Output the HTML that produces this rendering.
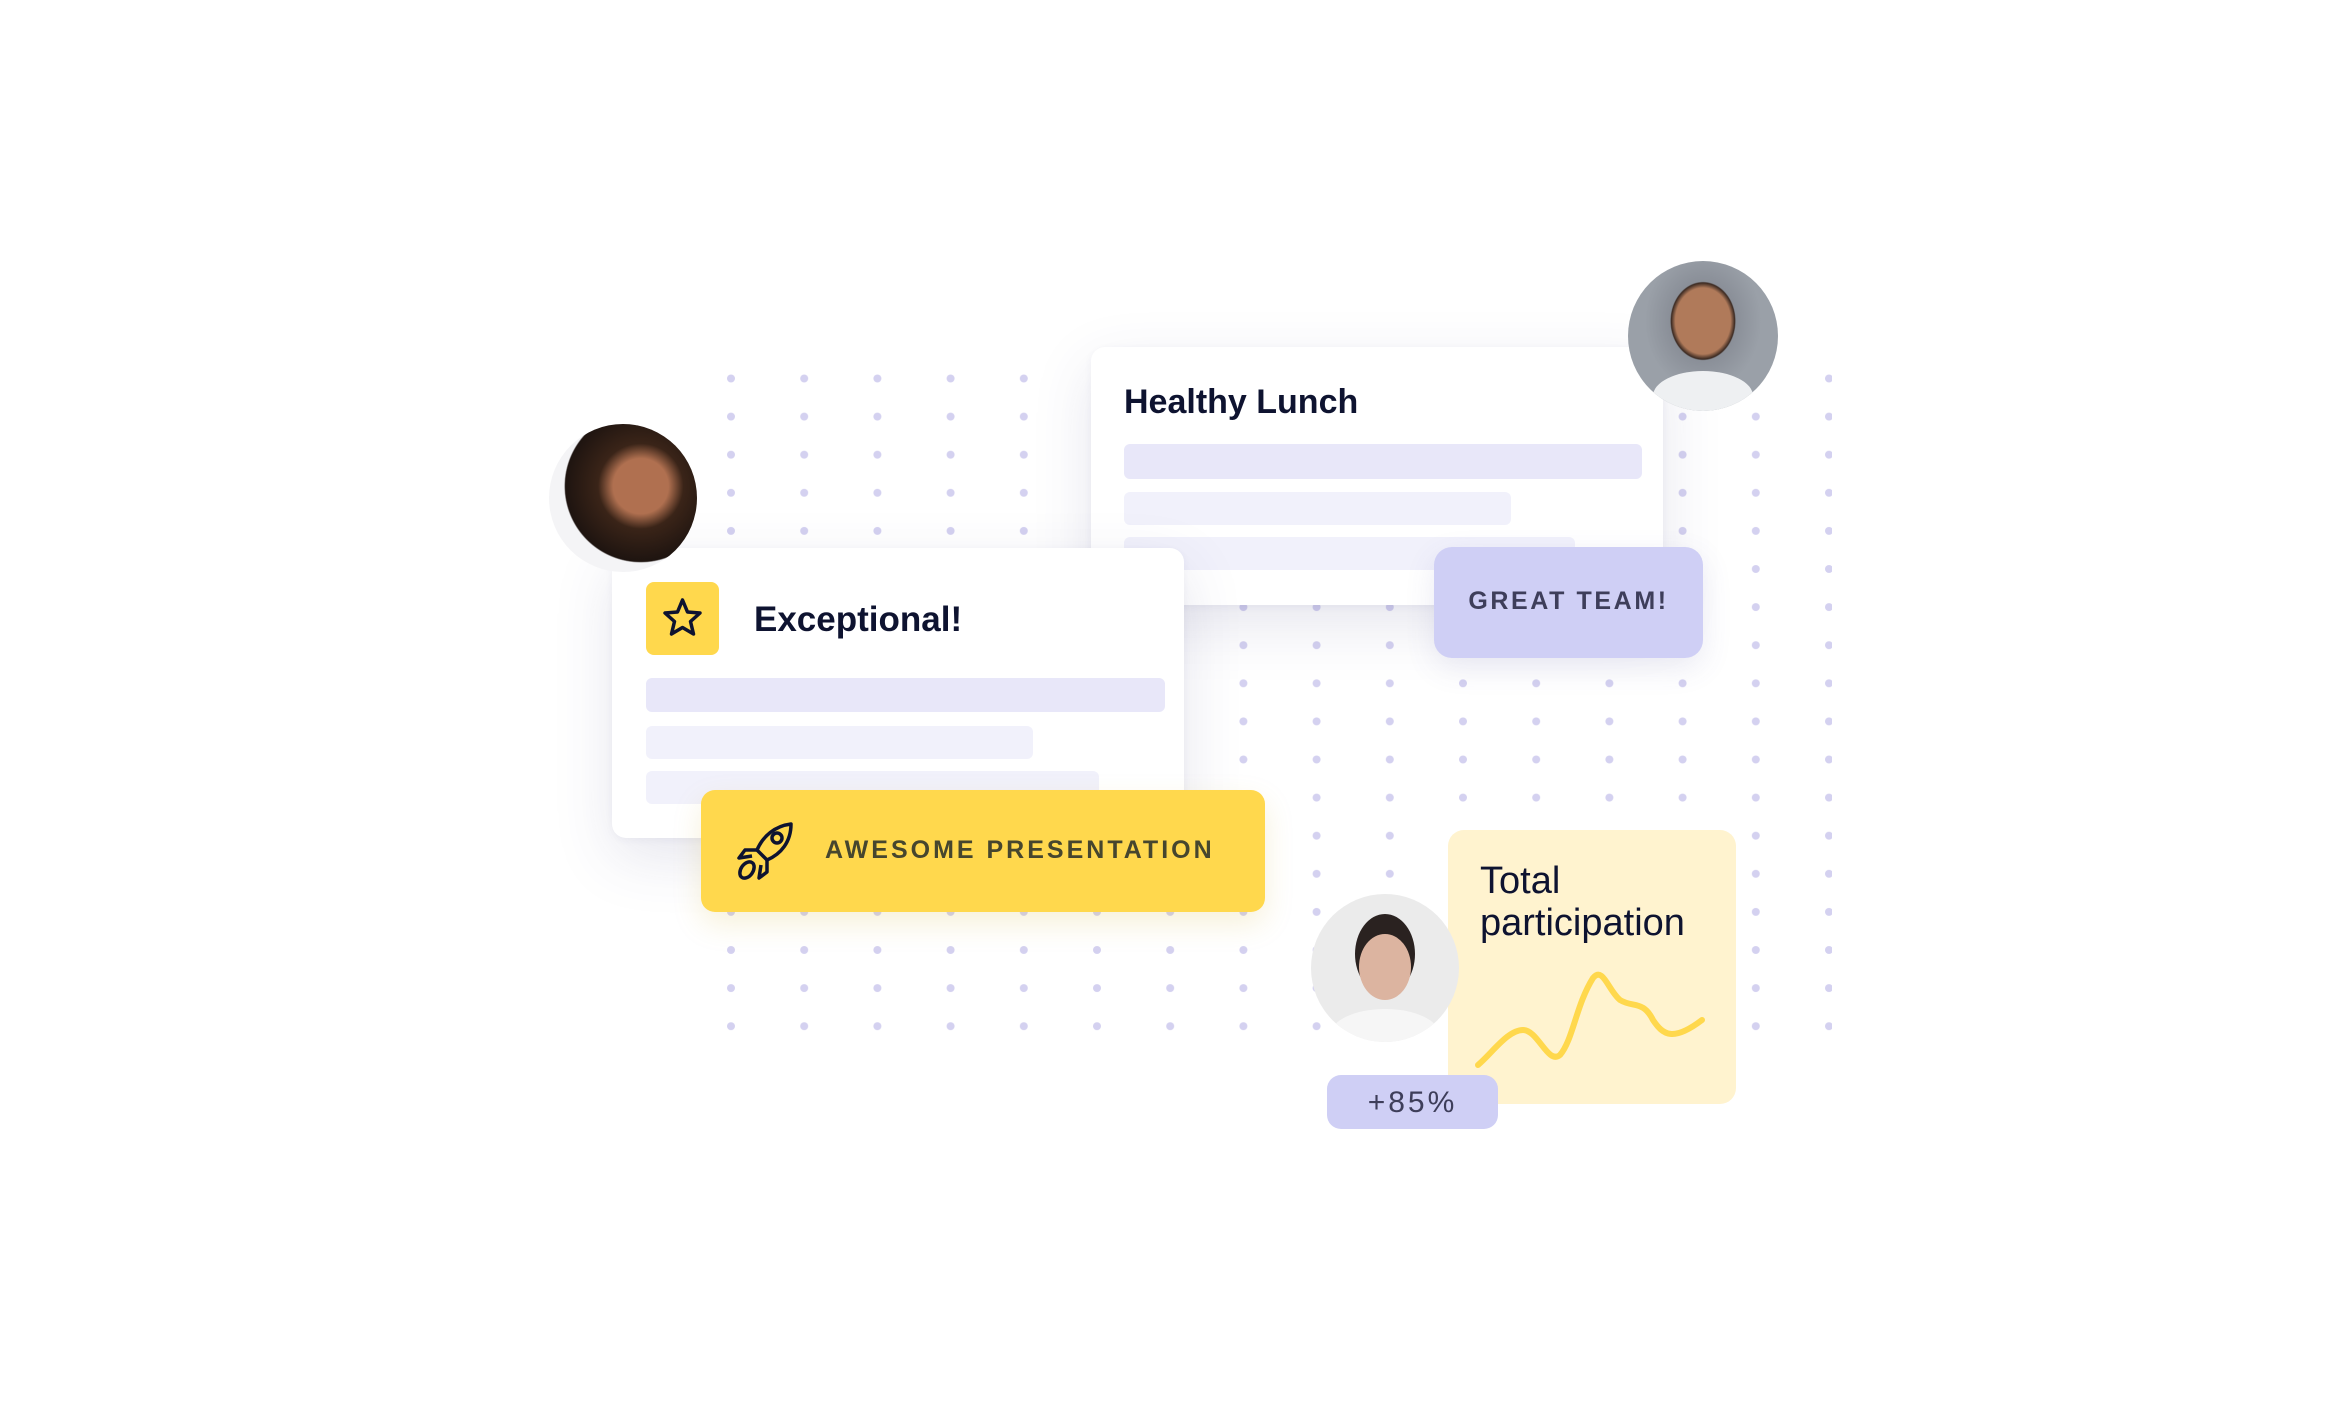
<!DOCTYPE html>
<html><head><meta charset="utf-8"><style>
html,body{margin:0;padding:0;background:#fff;}
body{width:2344px;height:1406px;position:relative;overflow:hidden;font-family:"Liberation Sans",sans-serif;}
.a{position:absolute;}
.card{background:#fff;border-radius:14px;box-shadow:0 20px 60px rgba(60,60,120,0.13),0 2px 8px rgba(60,60,120,0.05);}
.bar{position:absolute;border-radius:6px;}
.b1{background:#e8e7f9;}
.b2{background:#f1f1fb;}
.t{position:absolute;color:#0e1330;font-weight:bold;white-space:nowrap;}
.av{position:absolute;border-radius:50%;overflow:hidden;}
#w{position:absolute;left:-4px;top:-2px;width:2344px;height:1406px;}
</style></head><body>
<svg class="a" style="left:0;top:0" width="2344" height="1406">
<defs><pattern id="d" x="731" y="378.5" width="73.2" height="38.1" patternUnits="userSpaceOnUse"><circle cx="0" cy="0" r="4" fill="#d4d1f0"/><circle cx="73.2" cy="0" r="4" fill="#d4d1f0"/><circle cx="0" cy="38.1" r="4" fill="#d4d1f0"/><circle cx="73.2" cy="38.1" r="4" fill="#d4d1f0"/></pattern></defs>
<rect x="726" y="373" width="1106" height="660" fill="url(#d)"/>
</svg>
<div id="w">
<div class="a card" style="left:1095px;top:349px;width:572px;height:258px;">
 <div class="t" style="left:33px;top:36px;font-size:34px;">Healthy Lunch</div>
 <div class="bar b1" style="left:33px;top:97px;width:518px;height:35px;"></div>
 <div class="bar b2" style="left:33px;top:145px;width:387px;height:33px;"></div>
 <div class="bar b2" style="left:33px;top:190px;width:451px;height:33px;"></div>
</div>

<div class="a" style="left:1438px;top:549px;width:269px;height:111px;background:#cfcff5;border-radius:18px;box-shadow:0 10px 30px rgba(80,80,160,0.12);">
 <div style="position:absolute;left:0;right:0;top:40px;text-align:center;font-size:25px;font-weight:bold;letter-spacing:2.6px;color:#3e3e5a;">GREAT TEAM!</div>
</div>

<div class="a card" style="left:616px;top:550px;width:572px;height:290px;">
 <div class="a" style="left:34px;top:34px;width:73px;height:73px;background:#ffd84d;border-radius:8px;">
  <svg width="73" height="73" viewBox="0 0 73 73"><path d="M36.5 18 L41.5 30 L54 31 L44.5 39.5 L47.5 52 L36.5 45.5 L25.5 52 L28.5 39.5 L19 31 L31.5 30 Z" fill="none" stroke="#0e1330" stroke-width="3.5" stroke-linejoin="round"/></svg>
 </div>
 <div class="t" style="left:142px;top:52px;font-size:35px;">Exceptional!</div>
 <div class="bar b1" style="left:34px;top:130px;width:519px;height:34px;"></div>
 <div class="bar b2" style="left:34px;top:178px;width:387px;height:33px;"></div>
 <div class="bar b2" style="left:34px;top:223px;width:453px;height:33px;"></div>
</div>

<div class="a" style="left:705px;top:792px;width:564px;height:122px;background:#ffd84d;border-radius:14px;box-shadow:0 12px 30px rgba(200,160,0,0.15);">
 <svg class="a" style="left:34px;top:30px" width="62" height="62" viewBox="0 0 62 62">
  <g fill="none" stroke="#0e1330" stroke-width="3.5" stroke-linejoin="round">
   <path d="M56 4 C40 6 28 16 22 30 L32 40 C46 34 56 22 56 4 Z"/>
   <circle cx="42" cy="18" r="5"/>
   <path d="M22 30 L10 30 L4 38 L17 36"/>
   <path d="M32 40 L32 52 L24 58 L26 45"/>
   <ellipse cx="12" cy="50" rx="6" ry="9" transform="rotate(35 12 50)"/>
  </g>
 </svg>
 <div style="position:absolute;left:124px;top:46px;font-size:25px;font-weight:bold;letter-spacing:3px;color:#46462e;white-space:nowrap;">AWESOME PRESENTATION</div>
</div>

<div class="a" style="left:1452px;top:832px;width:288px;height:274px;background:#fff3cf;border-radius:16px;">
 <div style="position:absolute;left:32px;top:30px;font-size:38px;line-height:42px;color:#0e1330;">Total<br>participation</div>
 <svg class="a" style="left:0;top:0" width="288" height="274">
  <path d="M30 235 C45 222 60 200 75 200 C90 200 100 235 112 225 C125 210 128 175 145 148 C155 136 160 160 172 170 C185 178 195 170 205 190 C215 205 225 212 254 190" fill="none" stroke="#ffd84d" stroke-width="6" stroke-linecap="round"/>
 </svg>
</div>

<div class="a" style="left:1331px;top:1077px;width:171px;height:54px;background:#cfcff5;border-radius:14px;">
 <div style="position:absolute;left:0;right:0;top:11px;text-align:center;font-size:30px;letter-spacing:3px;color:#3e3e5a;">+85%</div>
</div>

<div class="av" style="left:553px;top:426px;width:148px;height:148px;background:radial-gradient(circle at 62% 42%,#b07050 0 22%,#3a2418 34%,#1e1410 60%,#f4f4f6 61%);"></div>
<div class="av" style="left:1632px;top:263px;width:150px;height:150px;background:radial-gradient(ellipse at 50% 40%,#b07a5a 0 26%,#3b2a22 30%,#8a8f98 31%,#9aa0a8 55%),linear-gradient(#888,#aaa);"><div style="position:absolute;left:25px;top:110px;width:100px;height:50px;background:#eef0f2;border-radius:50% 50% 0 0;"></div></div>
<div class="av" style="left:1315px;top:896px;width:148px;height:148px;background:#ebebeb;"><div style="position:absolute;left:44px;top:20px;width:60px;height:80px;background:#2a2220;border-radius:50%;"></div><div style="position:absolute;left:48px;top:40px;width:52px;height:66px;background:#dcb4a0;border-radius:50%;"></div><div style="position:absolute;left:20px;top:115px;width:108px;height:50px;background:#f6f6f6;border-radius:50% 50% 0 0;"></div></div>
</div>
</body></html>
